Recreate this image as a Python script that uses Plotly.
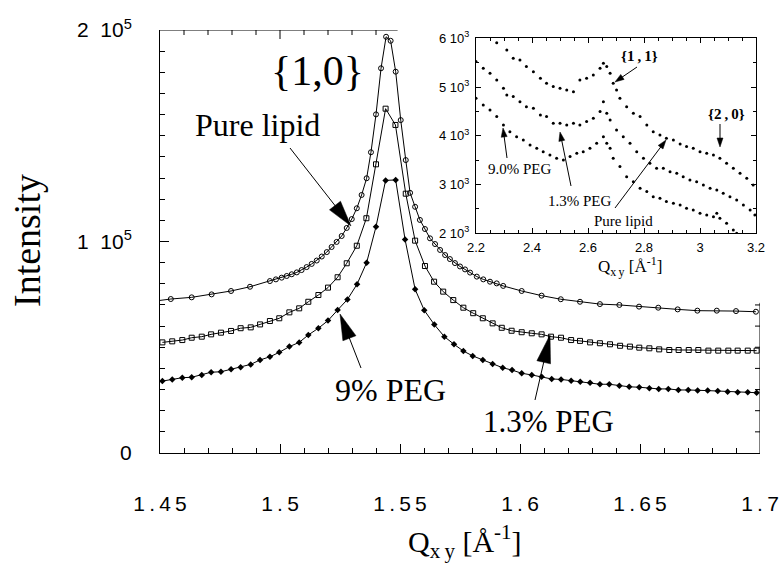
import math
import plotly.graph_objects as go

W, H = 784, 565

# ---------------- main panel data (Q in 1/Angstrom, intensity in counts) ----------------
pure_q = [1.4462, 1.4545, 1.4632, 1.4715, 1.4796, 1.4875, 1.4958, 1.4983, 1.5007, 1.5028,
          1.5049, 1.507, 1.509, 1.5111, 1.5132, 1.5153, 1.5174, 1.5195, 1.5215, 1.5236,
          1.5257, 1.5278, 1.5299, 1.532, 1.534, 1.5361, 1.5379, 1.54, 1.5421, 1.5442,
          1.5461, 1.5482, 1.5503, 1.5524, 1.5542, 1.5563, 1.5583, 1.5604, 1.5625, 1.5646,
          1.5667, 1.5688, 1.5708, 1.5729, 1.575, 1.5771, 1.5792, 1.582, 1.5847, 1.5875,
          1.5903, 1.593, 1.6007, 1.609, 1.617, 1.625, 1.6333, 1.6414, 1.6496, 1.6576,
          1.6657, 1.6739, 1.682, 1.69, 1.6983]
pure_I = [71.6, 72.8, 73.6, 75.0, 76.6, 78.6, 81.3, 82.1, 82.9, 83.7,
          84.5, 85.4, 86.5, 87.9, 89.4, 91.0, 92.9, 95.0, 97.4, 99.8,
          102.6, 106.4, 110.6, 115.7, 122.0, 129.9, 142.2, 160.1, 181.9, 196.8,
          194.9, 180.3, 157.4, 138.5, 123.0, 116.4, 110.2, 105.9, 101.5, 98.8,
          96.0, 93.6, 91.7, 89.8, 88.2, 86.8, 85.3, 83.4, 82.1, 81.0,
          80.2, 79.0, 76.6, 74.4, 72.7, 71.5, 70.4, 70.0, 69.2, 68.7,
          67.9, 67.3, 67.3, 67.1, 66.8]

peg13_q = [1.451, 1.4551, 1.4593, 1.4632, 1.4674, 1.4713, 1.4754, 1.4796, 1.4836, 1.4878,
           1.4917, 1.4958, 1.4997, 1.5039, 1.508, 1.5118, 1.516, 1.52, 1.524, 1.5278,
           1.532, 1.536, 1.54, 1.544, 1.5481, 1.5524, 1.5563, 1.5604, 1.5642, 1.568,
           1.5722, 1.5764, 1.5805, 1.5845, 1.5886, 1.5924, 1.5965, 1.6007, 1.6049, 1.609,
           1.6129, 1.6171, 1.6213, 1.625, 1.6292, 1.6333, 1.6375, 1.6417, 1.6458, 1.6497,
           1.6539, 1.658, 1.6622, 1.6661, 1.6703, 1.6743, 1.6785, 1.6826, 1.6868, 1.6907,
           1.6949, 1.6986]
peg13_I = [52.3, 52.8, 53.4, 54.5, 55.0, 56.1, 56.9, 57.7, 59.0, 59.4,
           60.8, 62.4, 63.7, 66.5, 68.4, 71.5, 74.7, 78.2, 83.1, 89.7,
           98.0, 111.0, 136.5, 162.8, 155.1, 122.6, 100.4, 88.4, 81.0, 76.3,
           72.3, 68.7, 66.1, 63.7, 61.3, 59.2, 57.8, 57.1, 56.6, 56.1,
           55.0, 54.5, 53.4, 53.0, 52.3, 51.9, 51.4, 50.7, 50.3, 49.8,
           49.5, 49.0, 48.7, 48.7, 48.7, 48.7, 48.4, 48.4, 48.4, 48.4,
           48.4, 48.4]

peg9_q = [1.451, 1.4551, 1.4593, 1.4632, 1.4674, 1.4713, 1.4754, 1.4796, 1.4836, 1.4878,
          1.4917, 1.4958, 1.4997, 1.5039, 1.508, 1.5118, 1.516, 1.52, 1.524, 1.5281,
          1.5321, 1.5361, 1.54, 1.544, 1.5482, 1.5521, 1.5563, 1.5601, 1.5643, 1.5685,
          1.5725, 1.5764, 1.5803, 1.5845, 1.5886, 1.5928, 1.5967, 1.6007, 1.6049, 1.609,
          1.6132, 1.6171, 1.6213, 1.6251, 1.6292, 1.6333, 1.6372, 1.6414, 1.6455, 1.6497,
          1.6539, 1.6578, 1.6618, 1.666, 1.6701, 1.674, 1.6782, 1.6824, 1.6865, 1.6907,
          1.6949, 1.6986]
peg9_I = [34.0, 34.8, 35.6, 35.8, 36.9, 38.2, 38.4, 39.6, 40.5, 41.9,
          44.0, 45.5, 47.6, 50.3, 52.3, 55.8, 59.0, 62.6, 67.6, 72.6,
          79.8, 90.0, 107.0, 128.9, 129.1, 101.0, 77.4, 67.5, 60.7, 55.0,
          51.4, 48.2, 45.9, 44.0, 42.1, 40.3, 39.2, 37.7, 36.9, 36.1,
          35.0, 34.8, 34.2, 33.7, 33.2, 32.5, 32.5, 31.8, 31.3, 31.1,
          30.6, 30.3, 30.3, 29.8, 29.8, 29.5, 29.5, 29.3, 29.0, 28.7,
          28.7, 28.5]

# ---------------- inset data ----------------
in_pure_q = [2.274, 2.31, 2.333, 2.357, 2.38, 2.405, 2.43, 2.452, 2.476, 2.5,
             2.524, 2.548, 2.571, 2.595, 2.619, 2.643, 2.655, 2.667, 2.679, 2.69,
             2.702, 2.714, 2.738, 2.762, 2.786, 2.81, 2.833, 2.857, 2.88, 2.905,
             2.929, 2.952, 2.976, 3.0, 3.024, 3.048, 3.071, 3.095, 3.119, 3.143,
             3.167, 3.19]
in_pure_I = [5911, 5761, 5590, 5556, 5419, 5316, 5180, 5077, 5009, 4975,
             4940, 4906, 5146, 5180, 5248, 5385, 5487, 5419, 5282, 5077,
             4940, 4770, 4598, 4462, 4394, 4222, 4085, 4017, 3949, 3915,
             3833, 3778, 3744, 3675, 3641, 3607, 3539, 3436, 3333, 3231,
             3128, 2992]

in_13_q = [2.2, 2.226, 2.25, 2.274, 2.298, 2.31, 2.333, 2.357, 2.38, 2.405,
           2.43, 2.452, 2.476, 2.5, 2.524, 2.548, 2.571, 2.595, 2.619, 2.643,
           2.655, 2.667, 2.679, 2.702, 2.726, 2.75, 2.774, 2.798, 2.821, 2.845,
           2.869, 2.893, 2.917, 2.94, 2.964, 2.988, 3.012, 3.036, 3.06, 3.083,
           3.107, 3.131, 3.155, 3.179, 3.196]
in_13_I = [5522, 5385, 5282, 5146, 4975, 4838, 4804, 4701, 4598, 4564,
           4428, 4394, 4257, 4257, 4222, 4257, 4222, 4291, 4359, 4496,
           4701, 4462, 4325, 4120, 3983, 3846, 3675, 3539, 3436, 3333,
           3333, 3265, 3231, 3162, 3094, 3060, 2992, 2923, 2889, 2821,
           2752, 2684, 2581, 2479, 2376]

in_9_q = [2.2, 2.226, 2.25, 2.274, 2.298, 2.321, 2.345, 2.369, 2.393, 2.417,
          2.44, 2.464, 2.488, 2.512, 2.536, 2.56, 2.583, 2.607, 2.631, 2.655,
          2.667, 2.679, 2.69, 2.714, 2.738, 2.762, 2.786, 2.81, 2.833, 2.857,
          2.88, 2.905, 2.929, 2.952, 2.976, 3.0, 3.024, 3.048, 3.06, 3.071,
          3.095, 3.119, 3.131]
in_9_I = [4770, 4633, 4530, 4394, 4222, 4085, 3983, 3915, 3812, 3744,
          3675, 3607, 3539, 3504, 3573, 3641, 3675, 3744, 3846, 3983,
          3846, 3744, 3539, 3368, 3162, 3060, 2923, 2855, 2752, 2718,
          2650, 2615, 2581, 2513, 2479, 2410, 2376, 2342, 2410, 2308,
          2205, 2068, 2000]

main_xticks = [1.45, 1.5, 1.55, 1.6, 1.65, 1.7]
main_xlabels = ["1.45", "1.5", "1.55", "1.6", "1.65", "1.7"]
main_yticks = [0, 1e5, 2e5]
main_ylabels = ["0", "1\u00a0\u00a010<sup>5</sup>", "2\u00a0\u00a010<sup>5</sup>"]
in_yticks = [2000, 3000, 4000, 5000, 6000]
in_ylabels = ["%d\u00a010<sup>3</sup>" % v for v in (2, 3, 4, 5, 6)]

SERIF = "Liberation Serif"
SANS = "Liberation Sans"


def spaced(s):
    return "\u2009".join(list(s))


def px(x):
    return x / W


def py(y):
    return 1 - y / H


fig = go.Figure()
line = dict(color="black", width=1)
fig.add_trace(go.Scatter(x=pure_q, y=[v * 1000 for v in pure_I], mode="lines+markers", line=line,
                         marker=dict(symbol="circle-open", size=5, color="black", line=dict(width=1))))
fig.add_trace(go.Scatter(x=peg13_q, y=[v * 1000 for v in peg13_I], mode="lines+markers", line=line,
                         marker=dict(symbol="square-open", size=5, color="black", line=dict(width=1))))
fig.add_trace(go.Scatter(x=peg9_q, y=[v * 1000 for v in peg9_I], mode="lines+markers", line=line,
                         marker=dict(symbol="diamond", size=5, color="black")))
for qq, ii in ((in_pure_q, in_pure_I), (in_13_q, in_13_I), (in_9_q, in_9_I)):
    fig.add_trace(go.Scatter(x=qq, y=ii, mode="markers", xaxis="x2", yaxis="y2",
                             marker=dict(size=3, color="black")))

shapes = []
# partial top and right frame of the main panel (the rest is hidden by the inset area)
top_end = 1.549
right_end = 71000
shapes.append(dict(type="line", xref="x", yref="y", x0=1.45, x1=top_end, y0=2e5, y1=2e5,
                   line=dict(color="black", width=1)))
shapes.append(dict(type="line", xref="x", yref="y", x0=1.7, x1=1.7, y0=0, y1=right_end,
                   line=dict(color="black", width=1)))
for k in range(1, 10):
    q = 1.45 + k * 0.01
    ln = 9 if k == 5 else 5
    shapes.append(dict(type="line", xref="x", yref="y", ysizemode="pixel", yanchor=2e5,
                       x0=q, x1=q, y0=0, y1=-ln, line=dict(color="black", width=1)))
for k in range(1, 8):
    shapes.append(dict(type="line", xref="x", yref="y", xsizemode="pixel", xanchor=1.7,
                       x0=0, x1=-5, y0=k * 1e4, y1=k * 1e4, line=dict(color="black", width=1)))


def arrow(tail, tip, hl, hw, lw=1.0):
    tx, ty = tail
    qx, qy = tip
    dx, dy = qx - tx, qy - ty
    L = math.hypot(dx, dy)
    ux, uy = dx / L, dy / L
    bx, by = qx - ux * hl, qy - uy * hl
    nx, ny = -uy, ux
    shapes.append(dict(type="line", xref="paper", yref="paper", x0=px(tx), y0=py(ty),
                       x1=px(bx + ux * 1), y1=py(by + uy * 1), line=dict(color="black", width=lw)))
    p1 = (bx + nx * hw / 2, by + ny * hw / 2)
    p2 = (bx - nx * hw / 2, by - ny * hw / 2)
    path = "M %.5f %.5f L %.5f %.5f L %.5f %.5f Z" % (px(qx), py(qy), px(p1[0]), py(p1[1]),
                                                      px(p2[0]), py(p2[1]))
    shapes.append(dict(type="path", xref="paper", yref="paper", path=path,
                       fillcolor="black", line=dict(color="black", width=0.5)))


# main arrows
arrow((290, 148), (351, 226), 26, 14)
arrow((361, 368), (340, 314), 26, 14)
arrow((535, 400), (550, 335), 28, 14)
# inset arrows
arrow((637, 67), (615, 82), 9, 6)
arrow((720, 124), (720, 147), 9, 6)
arrow((507, 158), (503, 128), 9, 6)
arrow((571, 186), (560, 132), 9, 6)
arrow((615, 208), (666, 140), 9, 6)

ann = []


def text(t, x, y, size, font=SERIF, angle=0):
    ann.append(dict(text=t, x=px(x), y=py(y), xref="paper", yref="paper", showarrow=False,
                    xanchor="center", yanchor="middle", textangle=angle,
                    font=dict(family=font, size=size, color="black")))


text("{1,0}", 317, 71, 42)
text("Pure lipid", 257, 125, 32)
text("9% PEG", 390, 390, 32)
text("1.3% PEG", 548, 421, 31)
text("<b>{1\u2009,\u20091}</b>", 639, 56, 15)
text("<b>{2\u2009,\u20090}</b>", 726, 114, 15)
text("9.0% PEG", 520, 169, 15)
text("1.3% PEG", 580, 201, 15)
text("Pure lipid", 623, 221, 15)
text("Intensity", 27, 241, 38, angle=-90)
text("Q<sub>x\u2009y</sub> [Å<sup>-1</sup>]", 465, 541, 30)
text("Q<sub>x\u2009y</sub> [Å<sup>-1</sup>]", 630, 266, 17)

axcommon = dict(showgrid=False, zeroline=False, showline=True, linecolor="black", linewidth=1,
                ticks="inside", tickcolor="black", tickwidth=1, automargin=False)

fig.update_layout(
    width=W, height=H, margin=dict(l=0, r=0, t=0, b=0, autoexpand=False),
    paper_bgcolor="white", plot_bgcolor="rgba(0,0,0,0)", showlegend=False,
    xaxis=dict(domain=[160 / W, 760 / W], range=[1.45, 1.7], anchor="y",
               tickmode="array", tickvals=main_xticks, ticktext=[spaced(s) for s in main_xlabels],
               ticklen=9, tickfont=dict(family=SANS, size=21, color="black"),
               ticklabelstandoff=32,
               minor=dict(dtick=0.01, tick0=1.45, ticks="inside", ticklen=5, tickcolor="black"),
               **axcommon),
    yaxis=dict(domain=[1 - 453 / H, 1 - 30 / H], range=[0, 2e5], anchor="x",
               tickmode="array", tickvals=main_yticks, ticktext=main_ylabels,
               ticklen=9, tickfont=dict(family=SANS, size=21, color="black"),
               ticklabelstandoff=23,
               minor=dict(dtick=1e4, tick0=0, ticks="inside", ticklen=5, tickcolor="black"),
               **axcommon),
    xaxis2=dict(domain=[476 / W, 756 / W], range=[2.2, 3.2], anchor="y2",
                tickmode="linear", tick0=2.2, dtick=0.2, ticklen=5, mirror="allticks",
                tickfont=dict(family=SANS, size=13, color="black"), ticklabelstandoff=2,
                minor=dict(dtick=0.05, tick0=2.2, ticks="inside", ticklen=3, tickcolor="black"),
                **axcommon),
    yaxis2=dict(domain=[1 - 233.3 / H, 1 - 38.3 / H], range=[2000, 6000], anchor="x2",
                tickmode="array", tickvals=in_yticks, ticktext=in_ylabels, ticklen=5,
                mirror="allticks", tickfont=dict(family=SANS, size=13, color="black"),
                ticklabelstandoff=3,
                minor=dict(dtick=500, tick0=2000, ticks="inside", ticklen=3, tickcolor="black"),
                **axcommon),
    shapes=shapes, annotations=ann,
)

fig.write_html("out.html")
